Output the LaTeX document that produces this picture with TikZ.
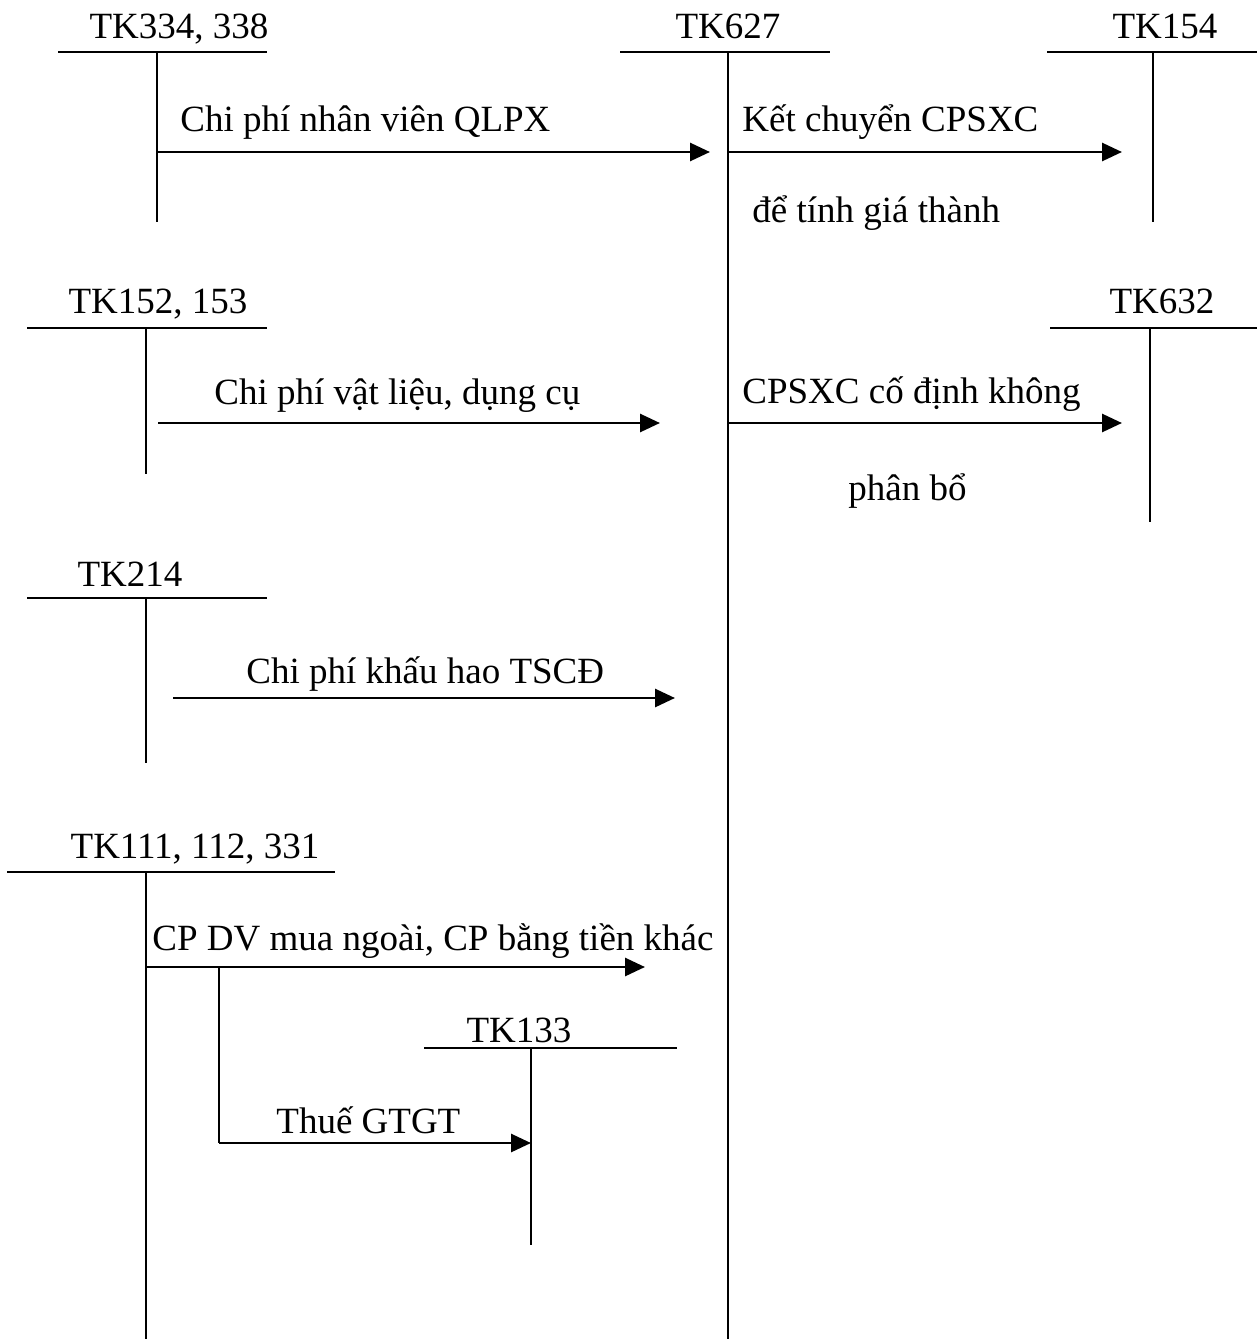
\documentclass[tikz,border=0pt]{standalone}
\usepackage{fontspec}
\setmainfont{Liberation Serif}
\usetikzlibrary{arrows.meta}

\begin{document}
\begin{tikzpicture}[x=0.5pt,y=-0.5pt,>={Triangle[length=10pt,width=9pt]},
  font=\fontsize{18.5}{22}\selectfont,
  tacc/.style={line width=0.9pt},
  flow/.style={->,line width=1.4pt},
  accname/.style={anchor=base,inner sep=0pt},
  txt/.style={anchor=base west,inner sep=0pt}]
  \useasboundingbox (0,0) rectangle (1257,1339);
  % cac tai khoan chu T
  \node[accname] (n334) at (179,38) {TK334, 338};
  \draw[tacc] (58,52) -- (267,52) (157,52) -- (157,222);
  \node[accname] (n627) at (728,38) {TK627};
  \draw[tacc] (620,52) -- (830,52) (728,52) -- (728,1339);
  \node[accname] (n154) at (1165,38) {TK154};
  \draw[tacc] (1047,52) -- (1257,52) (1153,52) -- (1153,222);
  \node[accname] (n152) at (158,313) {TK152, 153};
  \draw[tacc] (27,328) -- (267,328) (146,328) -- (146,474);
  \node[accname] (n632) at (1162,313) {TK632};
  \draw[tacc] (1050,328) -- (1257,328) (1150,328) -- (1150,522);
  \node[accname] (n214) at (130,586) {TK214};
  \draw[tacc] (27,598) -- (267,598) (146,598) -- (146,763);
  \node[accname] (n111) at (195,858) {TK111, 112, 331};
  \draw[tacc] (7,872) -- (335,872) (146,872) -- (146,1339);
  \node[accname] (n133) at (519,1042) {TK133};
  \draw[tacc] (424,1048) -- (677,1048) (531,1048) -- (531,1245);
  % diem dau, diem cuoi cac mui ten
  \coordinate (o334) at (157,152);  \coordinate (i627a) at (710,152);
  \coordinate (o627a) at (728,152); \coordinate (i154) at (1122,152);
  \coordinate (o152) at (158,423);  \coordinate (i627b) at (660,423);
  \coordinate (o627b) at (728,423); \coordinate (i632) at (1122,423);
  \coordinate (o214) at (173,698);  \coordinate (i627c) at (675,698);
  \coordinate (o111) at (146,967);  \coordinate (i627d) at (645,967);
  \coordinate (r111) at (219,967);  \coordinate (k111) at (219,1143);
  \coordinate (i133) at (531,1143);
  \draw[flow] (o334) -- (i627a);
  \draw[flow] (o627a) -- (i154);
  \draw[flow] (o152) -- (i627b);
  \draw[flow] (o627b) -- (i632);
  \draw[flow] (o214) -- (i627c);
  \draw[flow] (o111) -- (i627d);
  \draw[tacc] (r111) -- (k111);
  \draw[flow] (k111) -- (i133);
  % noi dung nghiep vu
  \node[txt] (t1) at (180,131) {Chi phí nhân viên QLPX};
  \node[txt] (t2) at (742,131) {Kết chuyển CPSXC};
  \node[txt] (t2b) at (752,222) {để tính giá thành};
  \node[txt] (t3) at (214,404) {Chi phí vật liệu, dụng cụ};
  \node[txt] (t4) at (742,403) {CPSXC cố định không};
  \node[txt] (t4b) at (848,500) {phân bổ};
  \node[txt] (t5) at (246,683) {Chi phí khấu hao TSCĐ};
  \node[txt] (t6) at (152,950) {CP DV mua ngoài, CP bằng tiền khác};
  \node[txt] (t7) at (276,1133) {Thuế GTGT};
\end{tikzpicture}
\end{document}
